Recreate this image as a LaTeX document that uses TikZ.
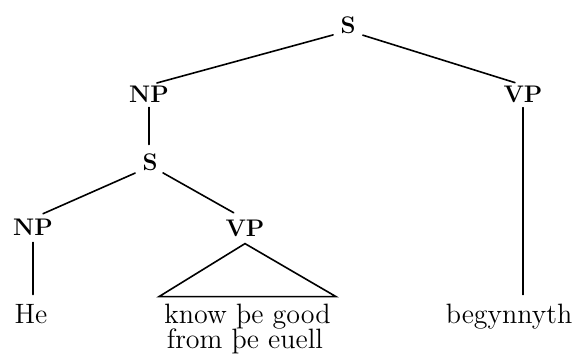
\documentclass[tikz,border=0pt]{standalone}
\usepackage{fontspec}
\setmainfont{Latin Modern Roman}
\begin{document}
\begin{tikzpicture}[x=0.5pt,y=-0.5pt,
  cat/.style={font=\fontsize{12}{14}\selectfont\bfseries, inner sep=0pt, anchor=base},
  word/.style={font=\fontsize{14}{16}\selectfont, inner sep=0pt, anchor=base},
  branch/.style={line width=0.8pt, line cap=round}]
\useasboundingbox (0,0) rectangle (580,360);

% category labels
\node[cat] (S)   at (348,33)  {S};
\node[cat] (NP)  at (149,102) {NP};
\node[cat] (VP)  at (523,102) {VP};
\node[cat] (S2)  at (150,170) {S};
\node[cat] (NP2) at (33,235)  {NP};
\node[cat] (VP2) at (245,236) {VP};

% terminal strings
\node[word] (He)  at (31,323)    {He};
\node[word] (l1)  at (247.5,323) {know þe good};
\node[word] (l2)  at (245,348)   {from þe euell};
\node[word] (beg) at (509,323)   {begynnyth};

% branches
\draw[branch, shorten <=3.6pt, shorten >=4.1pt] (S.base west) -- (NP.north);
\draw[branch, shorten <=3.6pt, shorten >=4.2pt] (S.base east) -- (VP.north);
\draw[branch, shorten <=2.5pt, shorten >=4.2pt] (NP.south) -- (NP.south |- S2.north);
\draw[branch, shorten <=3.8pt, shorten >=5.5pt] (S2.base west) -- (NP2.north);
\draw[branch, shorten <=2.9pt, shorten >=6.5pt] (S2.base east) -- (VP2.north);
\draw[branch, shorten <=3.5pt, shorten >=4.5pt] (NP2.south) -- (NP2.south |- He.north);
\draw[branch, shorten <=2.5pt, shorten >=4.3pt] (VP.south) -- (VP.south |- beg.north);

% roof over the unanalysed VP
\draw[branch, line join=miter]
  ([yshift=-3.5pt]VP2.south)
  -- ([xshift=-2.5pt,yshift=3.3pt]l1.north west)
  -- ([xshift=2.5pt,yshift=3.3pt]l1.north east) -- cycle;
\end{tikzpicture}
\end{document}
